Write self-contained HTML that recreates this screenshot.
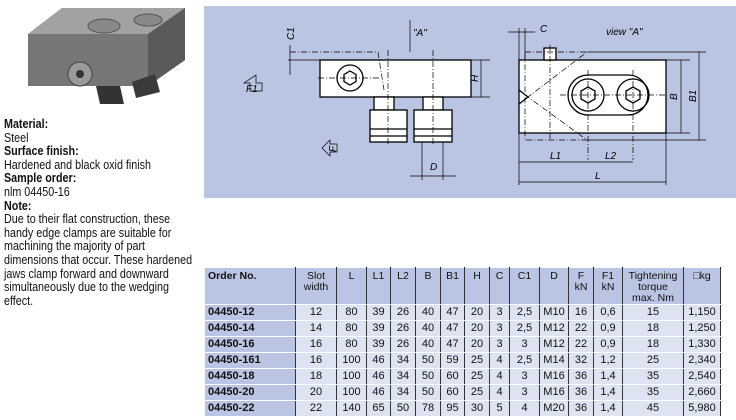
<!DOCTYPE html>
<html><head><meta charset="utf-8"><style>
body{margin:0;width:736px;height:420px;background:#fff;position:relative;overflow:hidden;font-family:"Liberation Sans",sans-serif;font-size:12px;color:#111}
.w{position:absolute;left:4px;top:118px;width:230px;transform:scaleX(0.86);transform-origin:0 0;font-size:12.5px;line-height:13.6px}
.b{font-weight:bold}
table{position:absolute;left:204px;top:267px;border-collapse:collapse;font-size:11px}
td{border:1px solid #fff;border-right:1px solid #333;text-align:center;height:15px;padding:0;background:#dde3f1;line-height:15px}
tr.h td{background:#b9c5e2;vertical-align:top;height:33px;line-height:11px;padding-top:3px;font-size:10.5px}
td.f{background:#b9c5e2;text-align:left;padding-left:3px;font-weight:bold}
</style></head><body>
<svg style="position:absolute;left:20px;top:2px" width="170" height="108" viewBox="0 0 170 108">
<polygon points="8,32 42,6 165,6 165,58 128,84 8,84" fill="#7e7e7e"/>
<polygon points="8,32 42,6 165,6 128,32" fill="#a2a2a2"/>
<polygon points="8,32 128,32 128,84 8,84" fill="#767676"/>
<polygon points="128,32 165,6 165,58 128,84" fill="#5a5a5a"/>
<ellipse cx="84" cy="24" rx="16" ry="7" fill="#888" stroke="#555"/>
<ellipse cx="128" cy="18" rx="14" ry="6" fill="#888" stroke="#555"/>
<circle cx="60" cy="72" r="12" fill="#9a9a9a" stroke="#444"/>
<circle cx="60" cy="72" r="4" fill="#333"/>
<polygon points="76,84 100,84 104,102 80,102" fill="#333"/>
<polygon points="112,80 135,72 140,90 116,96" fill="#3a3a3a"/>
</svg>
<div class="w">
<div class="b">Material:</div>
<div>Steel</div>
<div class="b">Surface finish:</div>
<div>Hardened and black oxid finish</div>
<div class="b">Sample order:</div>
<div>nlm 04450-16</div>
<div class="b">Note:</div>
<div>Due to their flat construction, these<br>handy edge clamps are suitable for<br>machining the majority of part<br>dimensions that occur. These hardened<br>jaws clamp forward and downward<br>simultaneously due to the wedging<br>effect.</div>
</div>

<svg style="position:absolute;left:204px;top:6px" width="532" height="192" viewBox="204 6 532 192">
<rect x="204" y="6" width="532" height="192" fill="#b9c5e2"/>
<g fill="none" stroke="#000" stroke-width="1.3">
<rect x="320" y="60" width="151" height="37" fill="#fff"/>
<circle cx="350" cy="78" r="13"/><polygon points="350,71 356,74.5 356,81.5 350,85 344,81.5 344,74.5"/>
<rect x="374" y="97" width="20" height="13" fill="#fff"/><rect x="423" y="97" width="20" height="13" fill="#fff"/>
<rect x="370" y="110" width="37" height="32" fill="#fff"/><rect x="414" y="110" width="38" height="32" fill="#fff"/>
<line x1="370" y1="129" x2="407" y2="129"/><line x1="370" y1="136" x2="407" y2="136"/>
<line x1="414" y1="129" x2="452" y2="129"/><line x1="414" y1="136" x2="452" y2="136"/>
<rect x="519" y="60" width="147" height="73" fill="#fff"/>
<rect x="568" y="75" width="80" height="40" rx="20"/>
<circle cx="588" cy="95" r="16"/><circle cx="633" cy="95" r="16"/>
<polygon points="588,87 595,91 595,99 588,103 581,99 581,91"/>
<polygon points="633,87 640,91 640,99 633,103 626,99 626,91"/>
<polyline points="519,90 528,97 519,104"/>
<rect x="544" y="48" width="12" height="12" fill="#fff"/>
</g>
<g fill="none" stroke="#000" stroke-width="0.7" stroke-dasharray="6,2,1,2">
<polyline points="290,52 378,52 384,90"/><line x1="318" y1="78" x2="380" y2="78"/>
<polyline points="525,52 587,52 528,97 587,140 525,140 525,52"/>
<line x1="560" y1="95" x2="665" y2="95"/><line x1="588" y1="70" x2="588" y2="160"/><line x1="633" y1="70" x2="633" y2="160"/>
<line x1="550" y1="45" x2="550" y2="140"/>
<line x1="388" y1="50" x2="388" y2="145"/><line x1="433" y1="50" x2="433" y2="145"/>
</g>
<g stroke="#000" stroke-width="0.7" fill="none">
<line x1="465" y1="60" x2="490" y2="60"/><line x1="465" y1="97" x2="490" y2="97"/><line x1="481" y1="60" x2="481" y2="97"/>
<line x1="288" y1="60" x2="320" y2="60"/><line x1="290" y1="45" x2="290" y2="75"/>
<line x1="410" y1="20" x2="410" y2="52"/>
<line x1="422" y1="142" x2="422" y2="180"/><line x1="443" y1="142" x2="443" y2="180"/><line x1="410" y1="176" x2="456" y2="176"/>
<line x1="666" y1="60" x2="690" y2="60"/><line x1="666" y1="133" x2="690" y2="133"/><line x1="681" y1="60" x2="681" y2="133"/>
<line x1="587" y1="52" x2="706" y2="52"/><line x1="587" y1="140" x2="706" y2="140"/><line x1="699" y1="52" x2="699" y2="140"/>
<line x1="519" y1="28" x2="519" y2="185"/><line x1="525" y1="28" x2="525" y2="60"/><line x1="508" y1="32" x2="535" y2="32"/>
<line x1="666" y1="133" x2="666" y2="185"/>
<line x1="519" y1="162" x2="633" y2="162"/><line x1="519" y1="182" x2="666" y2="182"/>
<polygon points="242,80 250,80 250,74 258,74 258,86 250,86 250,92" transform="rotate(90 250 83) translate(0,-3)"/>
<polygon points="322,148 330,140 330,144 337,144 337,152 330,152 330,156"/>
</g>
<g font-family="Liberation Sans" font-style="italic" font-size="10" fill="#000">
<text x="413" y="36">"A"</text><text x="606" y="35">view "A"</text>
<text x="540" y="32">C</text>
<text x="430" y="170">D</text><text x="550" y="159">L1</text><text x="605" y="159">L2</text><text x="595" y="179">L</text>
<text x="677" y="100" transform="rotate(-90 677 100)">B</text>
<text x="696" y="102" transform="rotate(-90 696 102)">B1</text>
<text x="478" y="82" transform="rotate(-90 478 82)">H</text>
<text x="294" y="40" transform="rotate(-90 294 40)">C1</text>
<text x="336" y="152" transform="rotate(-90 336 152)">F</text>
<text x="246" y="92">F1</text>
</g>
</svg>

<table>
<tr class="h"><td class="f" style="width:87px">Order No.</td><td style="width:40px">Slot<br>width</td><td style="width:29px">L</td><td style="width:23px">L1</td><td style="width:24px">L2</td><td style="width:24px">B</td><td style="width:23px">B1</td><td style="width:24px">H</td><td style="width:19px">C</td><td style="width:29px">C1</td><td style="width:28px">D</td><td style="width:24px">F<br>kN</td><td style="width:28px">F1<br>kN</td><td style="width:60px">Tightening<br>torque<br>max. Nm</td><td style="width:36px">&#9633;kg</td></tr>
<tr><td class="f">04450-12</td><td>12</td><td>80</td><td>39</td><td>26</td><td>40</td><td>47</td><td>20</td><td>3</td><td>2,5</td><td>M10</td><td>16</td><td>0,6</td><td>15</td><td>1,150</td></tr>
<tr><td class="f">04450-14</td><td>14</td><td>80</td><td>39</td><td>26</td><td>40</td><td>47</td><td>20</td><td>3</td><td>2,5</td><td>M12</td><td>22</td><td>0,9</td><td>18</td><td>1,250</td></tr>
<tr><td class="f">04450-16</td><td>16</td><td>80</td><td>39</td><td>26</td><td>40</td><td>47</td><td>20</td><td>3</td><td>3</td><td>M12</td><td>22</td><td>0,9</td><td>18</td><td>1,330</td></tr>
<tr><td class="f">04450-161</td><td>16</td><td>100</td><td>46</td><td>34</td><td>50</td><td>59</td><td>25</td><td>4</td><td>2,5</td><td>M14</td><td>32</td><td>1,2</td><td>25</td><td>2,340</td></tr>
<tr><td class="f">04450-18</td><td>18</td><td>100</td><td>46</td><td>34</td><td>50</td><td>60</td><td>25</td><td>4</td><td>3</td><td>M16</td><td>36</td><td>1,4</td><td>35</td><td>2,540</td></tr>
<tr><td class="f">04450-20</td><td>20</td><td>100</td><td>46</td><td>34</td><td>50</td><td>60</td><td>25</td><td>4</td><td>3</td><td>M16</td><td>36</td><td>1,4</td><td>35</td><td>2,660</td></tr>
<tr><td class="f">04450-22</td><td>22</td><td>140</td><td>65</td><td>50</td><td>78</td><td>95</td><td>30</td><td>5</td><td>4</td><td>M20</td><td>36</td><td>1,4</td><td>45</td><td>5,980</td></tr>
</table>
</body></html>
